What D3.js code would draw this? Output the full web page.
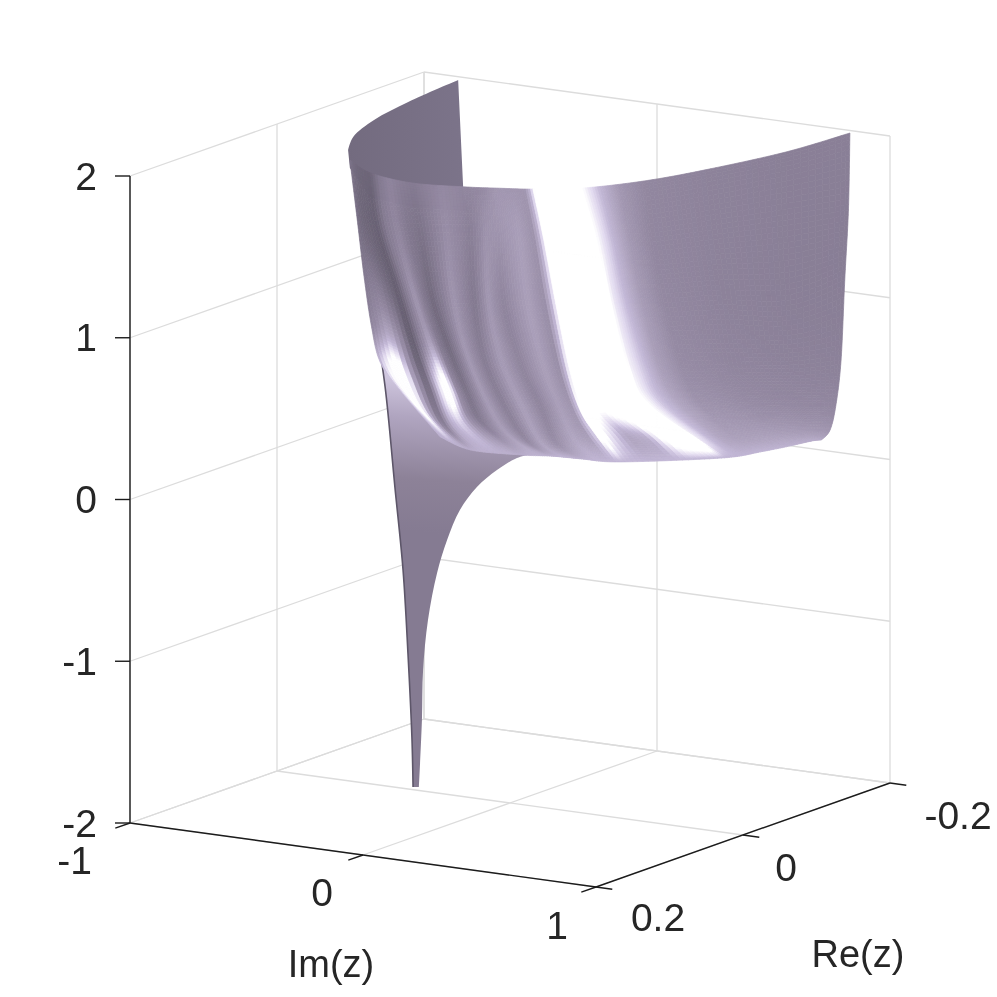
<!DOCTYPE html>
<html><head><meta charset="utf-8"><style>html,body{margin:0;padding:0;background:#fff}svg{display:block;filter:blur(.5px)}text{font-family:"Liberation Sans",Arial,sans-serif;fill:#262626}</style>
<script src="https://cdn.jsdelivr.net/npm/d3@7/dist/d3.min.js"></script></head><body><svg id="c" width="997" height="997"></svg>
<script>
const zTicks=[-2,-1,0,1,2], imTicks=[-1,0,1], reTicks=[-0.2,0,0.2];
const zLabels=["-2","-1","0","1","2"], imLabels=["-1","0","1"], reLabels=["-0.2","0","0.2"];
// flow lines of the sheet: one Im per line, seven samples of Re and z
const surfaceIm=[-.46,-.284,-.064,.141,.2395,.36,.505,.633,.725,.818,.85];
const surfaceRe=[
[.072,.062,.053,.043,.031,.004,-.051],
[.100,.090,.065,.042,.023,.001,-.036],
[.112,.102,.086,.065,.038,.017,-.034],
[.102,.099,.094,.082,.054,.022,-.012],
[.094,.090,.083,.060,.035,.012,-.022],
[.083,.069,.052,.033,.015,-.008,-.036],
[.061,.042,.024,.001,-.022,-.092,-.128],
[.018,.008,-.009,-.031,-.055,-.105,-.140],
[-.036,-.045,-.059,-.074,-.097,-.131,-.151],
[-.116,-.118,-.122,-.126,-.135,-.146,-.152],
[-.193,-.191,-.186,-.181,-.174,-.166,-.154]];
const surfaceZ=[
[2,1.614,1.258,.934,.686,.469,.090],
[2,1.661,1.251,.855,.577,.295,.069],
[2,1.707,1.266,.937,.584,.364,.085],
[2,1.742,1.319,.941,.588,.307,.153],
[2,1.747,1.259,.851,.564,.292,.139],
[2,1.682,1.245,.801,.524,.333,.122],
[2,1.667,1.230,.779,.537,.197,.027],
[2,1.637,1.203,.784,.516,.219,.071],
[2,1.614,1.159,.733,.449,.227,.108],
[2,1.577,1.076,.668,.405,.233,.156],
[2,1.528,1.102,.616,.349,.207,.165]];
// lighting read across the sheet, in flow-line units (above 1 = saturated highlight)
const shadeCols=[0,.25,.5,.75,1,1.25,1.5,1.75,2,2.5,3,3.5,4,4.5,4.8,4.95,5,5.1,5.3,5.5,5.7,6,6.1,6.3,6.6,7,8,9,10];
const shadeRows=[
[.36,.30,.26,.25,.24,.40,.47,.43,.40,.50,.47,.50,.57,.56,.56,.76,.94,1.15,1.3,1.3,1.15,1,.9,.74,.57,.48,.45,.43,.43],
[.33,.28,.25,.23,.20,.40,.48,.38,.34,.52,.43,.54,.56,.61,.54,.76,.95,1.2,1.3,1.3,1.2,1,.9,.74,.58,.48,.45,.43,.42],
[.38,.40,.38,.28,.18,.40,.56,.40,.27,.56,.38,.58,.46,.62,.52,.78,.98,1.25,1.35,1.35,1.25,1.05,.9,.76,.6,.49,.45,.43,.42],
[.45,.55,.68,.48,.16,.45,.66,.40,.27,.58,.40,.6,.46,.62,.52,.8,1.05,1.3,1.35,1.35,1.3,1.1,.94,.8,.62,.51,.47,.45,.44],
[.7,.95,1.25,.6,.24,.8,1.2,.5,.33,.6,.42,.62,.46,.62,.56,.82,1.25,1.2,1.02,1.2,1.35,1.25,.98,.8,.66,.55,.51,.49,.48],
[.75,.95,1.2,.7,.38,.7,.85,.55,.4,.62,.48,.65,.52,.66,.6,.85,1.3,.95,.66,.72,1.2,1.3,.9,.75,.66,.62,.6,.58,.56],
[.72,.72,.72,.72,.7,.72,.72,.72,.7,.72,.72,.74,.72,.74,.74,.74,.74,.74,.74,.74,.74,.74,.74,.74,.74,.74,.72,.7,.68]];
// back part of the z=2 rim, closed below the front sheet's rim
const wingIm=[-.825,-.787,-.735,-.651,-.553,-.46,-.284,-.064,.141,-.803];
const wingRe=[-.191,-.111,-.048,.007,.045,.072,.100,.112,.102,-.191];
const wingZ=[2,2,2,2,2,1.95,1.85,1.85,1.85,1.324];
const wingRimCount=5;
// the spike down to the pole, on Re = 0
const spikeIm=[-.579,-.536,-.494,-.459,-.438,-.421,-.416,-.391,-.378,-.373,-.352,-.313,-.270,-.215,-.142,-.056,.030,.077,-.129,-.472];
const spikeZ=[.872,.466,-.144,-.650,-1.159,-1.675,-1.983,-1.978,-1.562,-1.252,-.938,-.640,-.427,-.231,-.074,.048,.139,.167,.343,.769];
const spikeEdgeCount=7, spikeRightEnd=18;

const imX=d3.scaleLinear().domain([-1,1]).range([0,466]);
const imY=d3.scaleLinear().domain([-1,1]).range([0,64]);
const reX=d3.scaleLinear().domain([.2,-.2]).range([130,424]);
const reY=d3.scaleLinear().domain([.2,-.2]).range([0,-104]);
const zY=d3.scaleLinear().domain([-2,2]).range([823,176]);
const px=(im,re)=>imX(im)+reX(re);
const py=(im,re,z)=>imY(im)+reY(re)+zY(z);
const P=(im,re,z)=>[px(im,re),py(im,re,z)];
const svg=d3.select("#c");
const line=d3.line(), smooth=d3.line().curve(d3.curveCatmullRom);
const shadeColor=d3.scaleLinear().domain([0,.25,.4,.5,.65,.75,.85,1])
 .range(["#4e4858","#6f677a","#857b92","#958aa3","#b0a5c0","#c2b7d6","#e0d8ee","#ffffff"]).clamp(true);

// grid
const grid=svg.append("g").attr("fill","none").attr("stroke","#dcdcdc").attr("stroke-width",1.3);
const seg=(a,b)=>grid.append("path").attr("d",line([P(...a),P(...b)]));
zTicks.forEach(z=>{ seg([-1,.2,z],[-1,-.2,z]); seg([-1,-.2,z],[1,-.2,z]); });
reTicks.forEach(r=>{ seg([-1,r,-2],[-1,r,2]); seg([-1,r,-2],[1,r,-2]);});
imTicks.forEach(i=>{ seg([i,-.2,-2],[i,-.2,2]); seg([i,.2,-2],[i,-.2,-2]);});

// spike
const defs=svg.append("defs");
defs.append("filter").attr("id","soft").attr("x","-5%").attr("y","-5%").attr("width","110%").attr("height","110%")
 .append("feGaussianBlur").attr("stdDeviation",.6);
const g=defs.append("linearGradient").attr("id","sp").attr("gradientUnits","userSpaceOnUse")
 .attr("x1",px(-.35,0)).attr("y1",py(-.35,0,-.4)).attr("x2",px(-.3,0)).attr("y2",py(-.3,0,.55));
g.append("stop").attr("offset",0).attr("stop-color","#857b92");
g.append("stop").attr("offset",.35).attr("stop-color","#8d8298");
g.append("stop").attr("offset",.75).attr("stop-color","#b0a5c0");
g.append("stop").attr("offset",1).attr("stop-color","#cfc6de");
const spike=spikeIm.map((im,i)=>P(im,0,spikeZ[i]));
const spikeD=smooth(spike.slice(0,spikeEdgeCount))+"L"+smooth(spike.slice(spikeEdgeCount,spikeRightEnd)).slice(1)+"L"+spike.slice(spikeRightEnd).join("L")+"Z";
svg.append("path").attr("d",spikeD).attr("fill","url(#sp)");
svg.append("path").attr("d",smooth(spike.slice(0,spikeEdgeCount))).attr("fill","none").attr("stroke","#5d5669").attr("stroke-width",1.6);

// wing
const wg=defs.append("linearGradient").attr("id","wg").attr("x1",0).attr("x2",1);
wg.append("stop").attr("offset",0).attr("stop-color","#736b7f");
wg.append("stop").attr("offset",1).attr("stop-color","#7c748a");
const wing=wingIm.map((im,i)=>P(im,wingRe[i],wingZ[i]));
svg.append("path").attr("d",smooth(wing.slice(0,wingRimCount))+"L"+wing.slice(wingRimCount).join("L")+"Z").attr("fill","url(#wg)");

// main sheet
const cr=(a,b,c,d,t)=>.5*(2*b+(c-a)*t+(2*a-5*b+4*c-d)*t*t+(3*b-a-3*c+d)*t*t*t);
const nC=surfaceIm.length,nR=shadeRows.length;
const clampI=(i,n)=>Math.max(0,Math.min(n-1,i));
function field(get,s,t){
 const i=Math.min(nC-2,Math.floor(s)),u=s-i,j=Math.min(nR-2,Math.floor(t)),v=t-j;
 const col=k=>{const c=clampI(i+k,nC);return cr(get(c,clampI(j-1,nR)),get(c,j),get(c,j+1),get(c,clampI(j+2,nR)),v);};
 return cr(col(-1),col(0),col(1),col(2),u);
}
const subs=[10,14,16,12,18,20,24,14,14,10], rowSub=14;
const sVals=[];subs.forEach((n,i)=>{for(let k=0;k<n;k++)sVals.push(i+k/n);});sVals.push(nC-1);
const tVals=d3.range(0,(nR-1)*rowSub+1).map(k=>k/rowSub);
const rowScales=shadeRows.map(r=>d3.scaleLinear().domain(shadeCols).range(r));
const pts=sVals.map(s=>tVals.map(t=>{
 const im=field((c,r)=>surfaceIm[c],s,t),re=field((c,r)=>surfaceRe[c][r],s,t),z=field((c,r)=>surfaceZ[c][r],s,t);
 return P(im,re,z);}));
const quads=[];
for(let a=0;a<sVals.length-1;a++)for(let b=0;b<tVals.length-1;b++){
 const sm=(sVals[a]+sVals[a+1])/2,tm=(tVals[b]+tVals[b+1])/2;
 const j=Math.min(nR-2,Math.floor(tm)),f=tm-j;
 const v=cr(rowScales[clampI(j-1,nR)](sm),rowScales[j](sm),rowScales[j+1](sm),rowScales[clampI(j+2,nR)](sm),f);
 quads.push({p:[pts[a][b],pts[a+1][b],pts[a+1][b+1],pts[a][b+1]],c:shadeColor(v)});
}
svg.append("g").attr("filter","url(#soft)").selectAll("path").data(quads).join("path")
 .attr("d",d=>line(d.p)+"Z").attr("fill",d=>d.c).attr("stroke",d=>d.c).attr("stroke-width",.7);

// axes
const ax=svg.append("g").attr("fill","none").attr("stroke","#1c1c1c").attr("stroke-width",1.4);
const aseg=(a,b)=>ax.append("path").attr("d",line([a,b]));
aseg(P(-1,.2,-2),P(-1,.2,2));
aseg(P(-1,.2,-2),P(1,.2,-2));
aseg(P(1,.2,-2),P(1,-.2,-2));
zTicks.forEach(z=>{const p=P(-1,.2,z);aseg(p,[p[0]-15,p[1]]);});
imTicks.forEach(i=>{const p=P(i,.2,-2),q=P(i,.22,-2);aseg(p,q);});
reTicks.forEach(r=>{const p=P(1,r,-2),q=P(1.07,r,-2);aseg(p,q);});
// labels
const lab=(x,y,s,fs,anc)=>svg.append("text").attr("x",x).attr("y",y).attr("font-size",fs).attr("text-anchor",anc||"middle").attr("dominant-baseline","central").text(s);
zTicks.forEach((z,i)=>lab(97,zY(z),zLabels[i],39,"end"));
imTicks.forEach((v,i)=>{const p=P(v,.2,-2);lab(p[0]-[38,41,39][i],p[1]+[37,37,38][i],imLabels[i],39,i==0?"end":"middle");});
reTicks.forEach((v,i)=>{const p=P(1,v,-2);lab(p[0]+[68,43,62][i],p[1]+[32,32,30][i],reLabels[i],39);});
lab(331,964,"Im(z)",38);
lab(858,954,"Re(z)",38);
</script></body></html>
